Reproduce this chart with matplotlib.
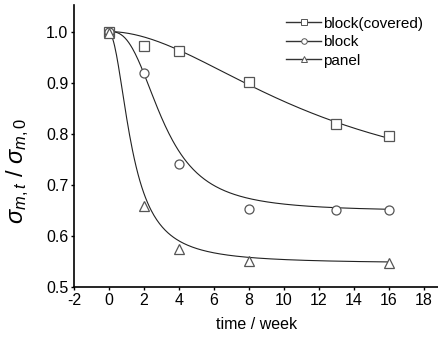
import matplotlib
matplotlib.use('Agg')
import matplotlib.pyplot as plt
import numpy as np

# measured points
weeks_cov = [0, 2, 4, 8, 13, 16]
ratio_cov = [1.0, 0.972, 0.961, 0.902, 0.820, 0.796]
weeks_block = [0, 2, 4, 8, 13, 16]
ratio_block = [1.0, 0.918, 0.740, 0.653, 0.650, 0.651]
weeks_panel = [0, 2, 4, 8, 16]
ratio_panel = [0.997, 0.658, 0.575, 0.550, 0.547]

# logistic fit parameters (A1, A2, x0, p)
fit_cov = (1.0, 0.67, 12.0, 1.9)
fit_block = (1.0, 0.648, 3.1, 2.7)
fit_panel = (0.997, 0.546, 1.32, 2.0)

labels = ['block(covered)', 'block', 'panel']
markers = ['s', 'o', '^']

plt.rcParams['font.family'] = ['Liberation Sans', 'DejaVu Sans']
plt.rcParams['mathtext.fontset'] = 'custom'
plt.rcParams['mathtext.rm'] = 'Liberation Sans'
plt.rcParams['mathtext.it'] = 'Liberation Sans:italic'
plt.rcParams['axes.unicode_minus'] = False


def logistic(t, a1, a2, x0, p):
    return a2 + (a1 - a2) / (1 + (t / x0) ** p)


fig = plt.figure(figsize=(4.39, 3.38), dpi=100)
ax = fig.add_axes([74 / 439, 1 - 287 / 338, 1 - 74 / 439, (287 - 5) / 338])

tt = np.linspace(0, 16, 300)
series = [(weeks_cov, ratio_cov, fit_cov), (weeks_block, ratio_block, fit_block),
          (weeks_panel, ratio_panel, fit_panel)]
handles = []
for (x, y, par), lab, mk in zip(series, labels, markers):
    ax.plot(tt, logistic(tt, *par), color='#222222', lw=0.8, zorder=2)
    ax.plot(x, y, mk, ms=6.5, mfc='white', mec='#555555', mew=0.9, zorder=3)
    h, = ax.plot([], [], color='#333333', lw=1.0, marker=mk, ms=4, mfc='white', mec='#555555', mew=0.7, label=lab)
    handles.append(h)

ax.set_xlim(-2, 18.86)
ax.set_ylim(0.5, 1.052)
ax.set_xticks(np.arange(-2, 19, 2))
ax.set_yticks([0.5, 0.6, 0.7, 0.8, 0.9, 1.0])
ax.set_yticklabels(['0.5', '0.6', '0.7', '0.8', '0.9', '1.0'])
ax.tick_params(direction='out', length=2.5, width=1.0, labelsize=11.5, pad=1.5)
for s in ['top', 'right']:
    ax.spines[s].set_visible(False)
for s in ['left', 'bottom']:
    ax.spines[s].set_linewidth(1.2)

ax.set_xlabel('time / week', fontsize=11.5, labelpad=7)
ax.set_ylabel(r'$\sigma_{m,t}\ /\ \sigma_{m,0}$', fontsize=17)
ax.yaxis.set_label_coords(-0.118, 0.41)

ax.legend(handles=handles, loc='upper right', bbox_to_anchor=(0.985, 0.997), frameon=False,
          fontsize=11, handlelength=2.3, handletextpad=0.1, labelspacing=0.3, borderpad=0.2)

fig.savefig('out.png', dpi=100)
